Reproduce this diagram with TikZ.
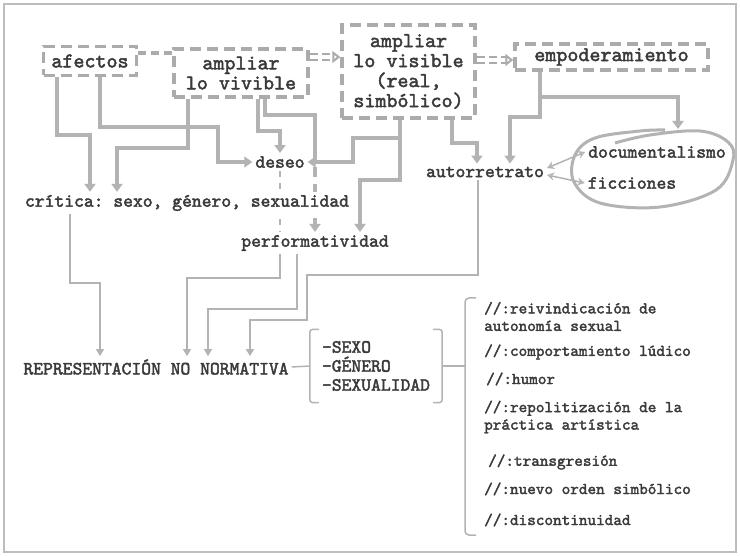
\documentclass[tikz,border=0pt]{standalone}
\usepackage{fontspec}
\setmonofont{lmmono10-regular.otf}[FakeBold=2.2]
\usepackage{tikz}
\usetikzlibrary{calc,arrows.meta,backgrounds}

\definecolor{linea}{HTML}{B3B3B3}
\definecolor{grisCaja}{HTML}{ABABAB}
\definecolor{marco}{HTML}{BDBDBD}
\definecolor{texto}{HTML}{3A3A3A}

\tikzset{
  caja/.style={draw=grisCaja, line width=3.5pt, dash pattern=on 11pt off 6pt, inner sep=0pt,
    align=center, text=texto, font=\ttfamily\fontsize{21}{20}\selectfont},
  etiqueta/.style={inner sep=3pt, text=texto, font=\ttfamily\fontsize{18.7}{19}\selectfont},
  rasgo/.style={inner sep=1pt, anchor=west, align=left, text=texto,
    font=\ttfamily\fontsize{16.4}{17.5}\selectfont},
  grueso/.style={draw=linea, line width=3.5pt},
  flecha/.style={grueso, -{Triangle[width=11pt,length=8pt]}},
  fino/.style={draw=linea, line width=1.5pt},
  flechafina/.style={fino, -{Triangle[width=8pt,length=7pt]}},
  doble/.style={fino, {Stealth[width=8pt,length=7pt,open]}-{Stealth[width=8pt,length=7pt,open]}},
  enlace/.style={draw=grisCaja, line width=2pt, double=white, double distance=4pt,
    dash pattern=on 8pt off 4pt}
}

\begin{document}
\begin{tikzpicture}[x=1pt,y=-1pt]
\useasboundingbox (0,0) rectangle (740,556);
\draw[marco, line width=1.5pt] (4,4) rectangle (736,552);

% cajas de arriba
\path (90,61) node[caja, minimum width=93pt, minimum height=29pt] (afectos) {afectos};
\path (241,73) node[caja, minimum width=134pt, minimum height=48pt] (vivible) {ampliar\\lo vivible};
\path (408.5,71.5) node[caja, minimum width=133pt, minimum height=93pt] (visible) {ampliar\\lo visible\\(real,\\simbólico)};
\path (611.5,57) node[caja, minimum width=193pt, minimum height=26pt] (empoderamiento) {empoderamiento};

% textos
\path (280,162) node[etiqueta] (deseo) {deseo};
\path (187,203) node[etiqueta, fill=white] (critica) {crítica: sexo, género, sexualidad};
\path (315,243) node[etiqueta] (performatividad) {performatividad};
\path (485,172) node[etiqueta] (autorretrato) {autorretrato};
\path (657,152) node[etiqueta] (documentalismo) {documentalismo};
\path (632,183) node[etiqueta] (ficciones) {ficciones};
\path (156,367) node[etiqueta] (representacion) {REPRESENTACIÓN NO NORMATIVA};
\path (376,366) node[etiqueta, align=left, inner xsep=12pt, minimum height=73pt] (sexo) {-SEXO\\-GÉNERO\\-SEXUALIDAD};

% lista
\path (483,316.5) node[rasgo] (r1) {//:reivindicación de\\autonomía sexual};
\path (483,352) node[rasgo] (r2) {//:comportamiento lúdico};
\path (485,379) node[rasgo] (r3) {//:humor};
\path (483,417) node[rasgo] (r4) {//:repolitización de la\\práctica artística};
\path (487,462) node[rasgo] (r5) {//:transgresión};
\path (483,489) node[rasgo] (r6) {//:nuevo orden simbólico};
\path (483,520) node[rasgo] (r7) {//:discontinuidad};

\coordinate (lazo) at (678,129);
\coordinate (llave) at (465,366);

\begin{scope}[on background layer]
% enlaces entre cajas
\draw[draw=grisCaja, line width=3.5pt, dash pattern=on 8pt off 5pt] (afectos.east |- 0,53) -- (vivible.west |- 0,53);
\draw[enlace, -{Triangle[open,width=12pt,length=8pt]}] (vivible.east |- 0,57) -- (visible.west |- 0,57);
\draw[enlace, -{Triangle[open,width=12pt,length=8pt]}] (visible.east |- 0,60) -- (empoderamiento.west |- 0,60);

% afectos
\draw[flecha] (57,0 |- afectos.south) |- (90,135) -- (90,0 |- critica.north);
\draw[flecha] (100,0 |- afectos.south) |- (218,127) |- (deseo.west);
% ampliar lo vivible
\draw[flecha] (188,0 |- vivible.south) |- (117,148) -- (117,0 |- critica.north);
\draw[flecha] (258,0 |- vivible.south) |- (280,131) -- (deseo.north);
\draw[grueso] (265,0 |- vivible.south) |- (315,115) -- (315,150);
\draw[grueso, dash pattern=on 10pt off 7pt] (315,150) -- (315,222);
\draw[flecha] (315,222) -- (performatividad.north);
% ampliar lo visible
\draw[flecha] (400,0 |- visible.south) |- (353,138) |- (deseo.east);
\draw[flecha] (400,0 |- visible.south) |- (360,180) -- (360,0 |- performatividad.north);
\draw[flecha] (452,0 |- visible.south) |- (477,143) -- (477,0 |- autorretrato.north);
% empoderamiento
\draw[flecha] (540,0 |- empoderamiento.south) |- (510,117) -- (510,0 |- autorretrato.north);
\draw[flecha] (540,97) -| (lazo);
\draw[grueso, line width=3pt] plot[smooth, tension=0.6] coordinates {(615,143) (650,135) (700,131) (728,142) (733,160) (716,190) (660,207) (600,203) (574,182) (575,155) (595,138) (640,131) (665,130)};
\draw[doble] ([yshift=4pt]autorretrato.east) -- (documentalismo.west);
\draw[doble] ([yshift=-3pt]autorretrato.east) -- (ficciones.west);

% hacia la representacion
\draw[fino, dash pattern=on 6pt off 6pt] (deseo.south) -- (deseo.south |- performatividad.north);
\draw[flechafina] (70,0 |- critica.south) |- (100,283) -- (100,0 |- representacion.north);
\draw[flechafina] (280,0 |- performatividad.south) |- (187,278) -- (187,0 |- representacion.north);
\draw[flechafina] (297,0 |- performatividad.south) |- (208,309) -- (208,0 |- representacion.north);
\draw[flechafina] (478,0 |- autorretrato.south) |- (307,275) |- (250,320) -- (250,0 |- representacion.north);
\end{scope}

% llaves
\draw[fino] (representacion.east) -- (sexo.west);
\draw[fino, rounded corners=3pt] ([xshift=9pt]sexo.north west) -- (sexo.north west) -- (sexo.south west) -- ([xshift=9pt]sexo.south west);
\draw[fino, rounded corners=3pt] ([xshift=-9pt]sexo.north east) -- (sexo.north east) -- (sexo.south east) -- ([xshift=-9pt]sexo.south east);
\draw[fino] (sexo.east) -- (llave);
\draw[fino, rounded corners=4pt] (476,298) -- (465,298) -- (465,535) -- (476,535);
\end{tikzpicture}
\end{document}
